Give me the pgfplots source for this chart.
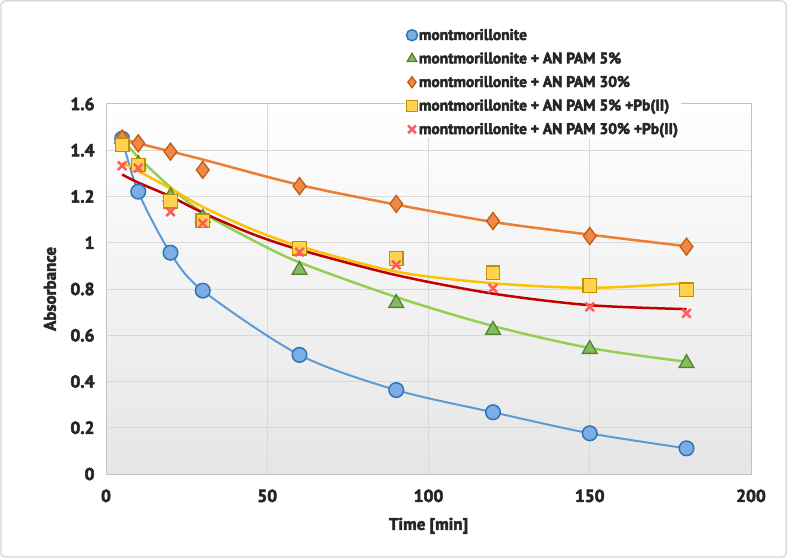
\documentclass[border=0pt]{standalone}
\usepackage{fontspec}
\setmainfont{PT Sans}[BoldFeatures={FakeBold=3}]
\usepackage{pgfplots}
\pgfplotsset{compat=1.18}
\definecolor{bl}{HTML}{5B9BD5}
\definecolor{bld}{HTML}{2E75B6}
\definecolor{blf}{HTML}{7DAEE3}
\definecolor{gl}{HTML}{92D050}
\definecolor{gd}{HTML}{548235}
\definecolor{gf}{HTML}{84BB5E}
\definecolor{ol}{HTML}{ED7D31}
\definecolor{od}{HTML}{C55A11}
\definecolor{of}{HTML}{EE8A45}
\definecolor{yl}{HTML}{FFC000}
\definecolor{yd}{HTML}{BF9000}
\definecolor{yf}{HTML}{FFD34F}
\definecolor{rl}{HTML}{C00000}
\definecolor{rx}{HTML}{FF5B5B}
\definecolor{gridc}{HTML}{D9D9D9}
\begin{document}
\begin{tikzpicture}
\begin{axis}[
  name=ax,
  scale only axis, width=645bp, height=370bp,
  xmin=0, xmax=200, ymin=0, ymax=1.6,
  xtick={0,50,...,200}, ytick={0,0.2,...,1.6},
  yticklabels={0,0.2,0.4,0.6,0.8,1,1.2,1.4,1.6},
  major tick length=0pt,
  grid=major, major grid style={gridc, line width=1pt},
  axis line style={gridc!90!black, line width=1pt},
  axis background/.style={top color=white, bottom color=black!10},
  ticklabel style={font=\fontsize{17.5}{19}\selectfont\bfseries, text=black!85},
  /pgf/number format/assume math mode=true,
  xticklabel style={yshift=-12bp},
  yticklabel style={xshift=-8bp},
  xlabel={Time [min]}, ylabel={Absorbance},
  label style={font=\fontsize{17}{19}\selectfont\bfseries, text=black!85},
  xlabel style={at={(axis description cs:0.5,-0.14)}, anchor=center},
  ylabel style={at={(axis description cs:-0.072,0.5)}, anchor=south},
  legend style={at={(axis description cs:0.464,1.21)}, anchor=north west,
    draw=none, fill=white, font=\fontsize{15.5}{17}\selectfont\bfseries,
    text=black!85, row sep=8bp, inner sep=1bp,
    nodes={inner sep=1.5bp}},
  legend cell align=left,
  legend image code/.code={\draw[#1, only marks, mark size=5.5bp] plot coordinates {(0bp,0bp)};},
  clip=false,
]
% trend lines
\addplot[bl, line width=2pt, smooth, forget plot] coordinates {(5,1.45)(10,1.22)(20,0.955)(30,0.793)(60,0.515)(90,0.363)(120,0.267)(150,0.176)(180,0.111)};
\addplot[gl, line width=2.5pt, smooth, forget plot] coordinates {(5,1.45)(10,1.37)(20,1.24)(30,1.13)(45,1.015)(60,0.915)(90,0.765)(120,0.64)(150,0.545)(180,0.485)};
\addplot[ol, line width=2.5pt, smooth, forget plot] coordinates {(5,1.45)(10,1.43)(20,1.395)(30,1.36)(60,1.25)(90,1.165)(120,1.09)(150,1.035)(180,0.985)};
\addplot[yl, line width=2.5pt, smooth, forget plot] coordinates {(5,1.345)(10,1.31)(20,1.235)(30,1.155)(45,1.06)(60,0.985)(90,0.875)(120,0.825)(150,0.805)(180,0.825)};
\addplot[rl, line width=2.5pt, smooth, forget plot] coordinates {(5,1.295)(10,1.26)(20,1.2)(30,1.13)(45,1.04)(60,0.97)(90,0.86)(120,0.78)(150,0.73)(180,0.713)};
% markers
\addplot[only marks, mark=*, mark size=7.3bp, draw=bld, fill=blf, line width=1.5pt] coordinates {(5,1.45)(10,1.221)(20,0.957)(30,0.793)(60,0.515)(90,0.363)(120,0.267)(150,0.176)(180,0.111)};
\addlegendentry{montmorillonite}
\addplot[only marks, mark=triangle*, mark size=8.5bp, draw=gd, fill=gf, line width=1.3pt] coordinates {(5,1.45)(10,1.34)(20,1.20)(30,1.107)(60,0.882)(90,0.739)(120,0.623)(150,0.540)(180,0.479)};
\addlegendentry{montmorillonite + AN PAM 5\%}
\addplot[only marks, mark=diamond*, mark size=8.5bp, draw=od, fill=of, line width=1.3pt] coordinates {(5,1.45)(10,1.43)(20,1.394)(30,1.315)(60,1.245)(90,1.168)(120,1.094)(150,1.029)(180,0.983)};
\addlegendentry{montmorillonite + AN PAM 30\%}
\addplot[only marks, mark=square*, mark size=6.8bp, draw=yd, fill=yf, line width=1.3pt] coordinates {(5,1.423)(10,1.336)(20,1.18)(30,1.095)(60,0.976)(90,0.932)(120,0.87)(150,0.815)(180,0.796)};
\addlegendentry{montmorillonite + AN PAM 5\% +Pb(II)}
\addplot[only marks, mark=x, mark size=6bp, draw=rx, line width=2.5pt] coordinates {(5,1.333)(10,1.323)(20,1.134)(30,1.084)(60,0.959)(90,0.904)(120,0.803)(150,0.723)(180,0.695)};
\addlegendentry{montmorillonite + AN PAM 30\% +Pb(II)}
\end{axis}
\draw[black!15, line width=1.5pt, rounded corners=4bp]
  ([xshift=-105bp, yshift=-83bp]ax.south west) rectangle ([xshift=35bp, yshift=103bp]ax.north east);
\useasboundingbox ([xshift=-106bp, yshift=-84bp]ax.south west) rectangle ([xshift=36bp, yshift=104bp]ax.north east);
\end{tikzpicture}
\end{document}
